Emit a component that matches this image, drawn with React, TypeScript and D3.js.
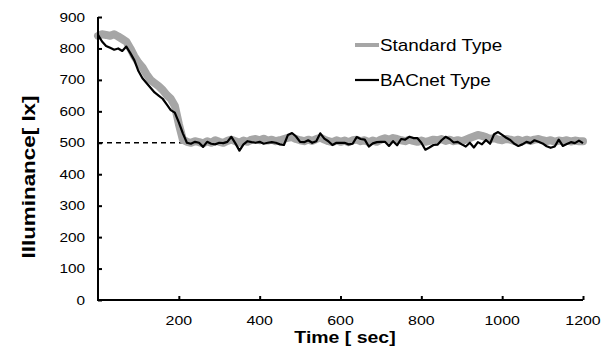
import * as d3 from 'd3';
import { useEffect, useRef } from 'react';

const SAMPLE_STEP = 10;

const standardType: number[] = [
  840, 845, 843, 840, 845, 838, 830, 822, 800, 775, 755, 740, 718, 700, 690, 680, 668, 652, 640, 618, 560, 510, 503,
  500, 505, 502, 498, 505, 500, 508, 503, 500, 506, 510, 505, 500, 507, 503, 510, 512, 508, 513, 507,
  510, 505, 508, 512, 516, 518, 512, 508, 505, 510, 506, 512, 516, 510, 505, 502, 508, 503, 507, 502,
  508, 510, 505, 508, 502, 507, 503, 510, 514, 510, 515, 512, 508, 505, 510, 506, 503, 507, 503, 506,
  510, 508, 512, 506, 510, 505, 508, 505, 510, 515, 520, 525, 522, 518, 512, 515, 510, 508, 512, 510,
  506, 510, 505, 510, 506, 510, 512, 508, 505, 508, 503, 507, 505, 508, 504, 507, 505, 505,
];

const bacnetType: number[] = [
  843, 822, 808, 802, 796, 800, 792, 806, 785, 762, 728, 705, 690, 675, 660, 650, 640, 622, 604, 596, 565, 530,
  500, 497, 503, 500, 487, 503, 497, 495, 500, 499, 503, 519, 498, 475, 495, 505, 502, 500, 503, 497,
  500, 502, 500, 495, 493, 525, 531, 520, 503, 502, 508, 500, 505, 530, 513, 505, 493, 500, 500, 500,
  495, 497, 518, 512, 510, 488, 498, 502, 503, 503, 490, 505, 492, 512, 510, 519, 515, 515, 500, 478,
  485, 493, 494, 508, 519, 512, 501, 503, 495, 488, 500, 485, 502, 495, 509, 497, 527, 534, 525, 516,
  509, 497, 490, 495, 503, 499, 508, 503, 498, 489, 484, 488, 510, 490, 496, 502, 499, 507, 499,
];

const yTicks = [0, 100, 200, 300, 400, 500, 600, 700, 800, 900];
const xTicks = [200, 400, 600, 800, 1000, 1200];
const setpoint = 500;
const setpointEnd = 215;
const legendItems = ['Standard Type', 'BACnet Type'];

const App = () => {
  const svgRef = useRef<SVGSVGElement>(null);

  useEffect(() => {
    const width = 613;
    const height = 356;
    const left = 98;
    const right = 583;
    const top = 17;
    const bottom = 300;
    const font = 'Liberation Sans, Arial, sans-serif';
    const sx = 1.18; // the original text is a bit wide

    const xScale = d3.scaleLinear([0, 1200], [left, right]);
    const yScale = d3.scaleLinear([0, 900], [bottom, top]);

    const svg = d3.select(svgRef.current);
    svg.selectAll('*').remove();
    svg.attr('width', width).attr('height', height).attr('viewBox', [0, 0, width, height]);

    svg.append('rect').attr('width', width).attr('height', height).attr('fill', '#fff');

    const line = d3
      .line<number>()
      .x((_, i) => xScale(i * SAMPLE_STEP))
      .y((d) => yScale(d));

    // dashed set point
    svg
      .append('line')
      .attr('x1', xScale(0))
      .attr('x2', xScale(setpointEnd))
      .attr('y1', yScale(setpoint))
      .attr('y2', yScale(setpoint))
      .attr('stroke', '#000')
      .attr('stroke-width', 1.5)
      .attr('stroke-dasharray', '5,4');

    svg
      .append('path')
      .attr('fill', 'none')
      .attr('stroke', '#a6a6a6')
      .attr('stroke-width', 8)
      .attr('stroke-linejoin', 'round')
      .attr('stroke-linecap', 'round')
      .attr('d', line(standardType));

    svg
      .append('path')
      .attr('fill', 'none')
      .attr('stroke', '#000')
      .attr('stroke-width', 2.2)
      .attr('stroke-linejoin', 'round')
      .attr('d', line(bacnetType));

    // y axis, ticks inside
    svg
      .append('g')
      .attr('transform', `translate(${left},0)`)
      .call(d3.axisLeft(yScale).tickValues(yTicks).tickSize(-4).tickSizeOuter(0).tickFormat(() => ''))
      .call((g) => {
        g.select('.domain').attr('stroke-width', 2).attr('d', `M0,${top}V${bottom}`);
        g.selectAll('.tick line').attr('stroke-width', 2);
      });

    yTicks.forEach((v) => {
      svg
        .append('text')
        .attr('transform', `translate(85,${yScale(v) + 4.5}) scale(${sx},1)`)
        .attr('text-anchor', 'end')
        .attr('font-family', font)
        .attr('font-size', 13)
        .attr('fill', '#000')
        .text(v);
    });

    // x axis, ticks inside
    svg
      .append('g')
      .attr('transform', `translate(0,${bottom})`)
      .call(d3.axisBottom(xScale).tickValues(xTicks).tickSize(-4).tickSizeOuter(0).tickFormat(() => ''))
      .call((g) => {
        g.select('.domain').attr('stroke-width', 2).attr('d', `M${left - 1},0H${right}`);
        g.selectAll('.tick line').attr('stroke-width', 2);
      });

    xTicks.forEach((v) => {
      svg
        .append('text')
        .attr('transform', `translate(${xScale(v)},325) scale(${sx},1)`)
        .attr('text-anchor', 'middle')
        .attr('font-family', font)
        .attr('font-size', 13.5)
        .attr('fill', '#000')
        .text(v);
    });

    // axis titles
    svg
      .append('text')
      .attr('transform', `translate(345,343) scale(${sx},1)`)
      .attr('text-anchor', 'middle')
      .attr('font-family', font)
      .attr('font-weight', 'bold')
      .attr('font-size', 16.5)
      .text('Time [ sec]');

    svg
      .append('text')
      .attr('transform', `translate(35,177) rotate(-90) scale(${sx},1)`)
      .attr('text-anchor', 'middle')
      .attr('font-family', font)
      .attr('font-weight', 'bold')
      .attr('font-size', 19)
      .text('Illuminance[ lx]');

    // legend
    const legendStyles = [
      { stroke: '#a6a6a6', width: 4, y: 45 },
      { stroke: '#000', width: 2.2, y: 80 },
    ];
    legendItems.forEach((name, i) => {
      const s = legendStyles[i];
      svg
        .append('line')
        .attr('x1', 355)
        .attr('x2', 379)
        .attr('y1', s.y)
        .attr('y2', s.y)
        .attr('stroke', s.stroke)
        .attr('stroke-width', s.width);
      svg
        .append('text')
        .attr('transform', `translate(380,${s.y + 6}) scale(${sx},1)`)
        .attr('font-family', font)
        .attr('font-size', 16)
        .attr('fill', '#000')
        .text(name);
    });
  }, []);

  return <svg ref={svgRef} style={{ position: 'absolute', left: 0, top: 0 }} />;
};

export default App;
